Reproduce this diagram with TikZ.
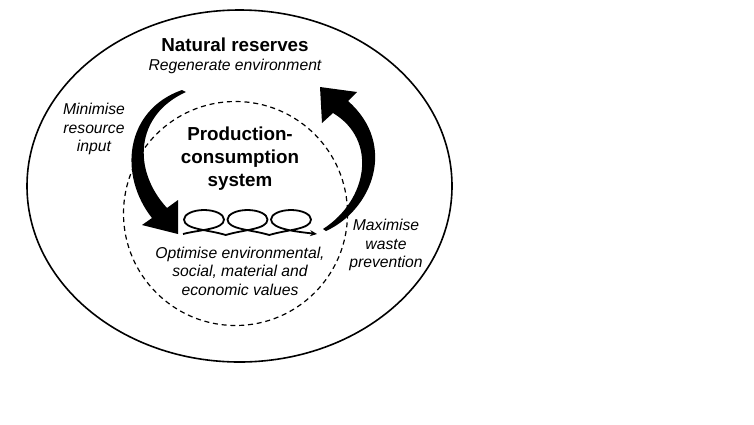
\documentclass[tikz,border=0pt]{standalone}
\usepackage{fontspec}
\setmainfont{Liberation Sans}
\usetikzlibrary{arrows.meta}
\begin{document}
\begin{tikzpicture}[x=1pt,y=-1pt,
    bigbold/.style={font=\fontsize{18.8}{23}\selectfont\bfseries,align=center,inner sep=0pt},
    itext/.style={font=\fontsize{15.7}{18.5}\selectfont\itshape,align=center,inner sep=0pt}]
    \useasboundingbox (0,0) rectangle (754,424);
    % outer reserve and inner system
    \draw[line width=1.6pt] (239.5,186) ellipse [x radius=212.5,y radius=176];
    \draw[line width=1.2pt,dash pattern=on 5pt off 3.8pt] (235.5,213.5) circle [radius=112];
    % texts
    \node[bigbold] (nr) at (235,45) {Natural reserves};
    \node[itext] (reg) at (235,66) {Regenerate environment};
    \node[itext] (mri) at (94,129) {Minimise\\resource\\input};
    \node[bigbold] (pcs) at (240,159) {Production-\\consumption\\system};
    \node[itext] (opt) at (240,271) {Optimise environmental,\\social, material and\\economic values};
    \node[itext] (mwp) at (386,245) {Maximise\\waste\\prevention};
    % big curved arrows
    \fill (182,90) .. controls (125,110) and (118,175) .. (152,218) -- (142,225) -- (178,234)
      -- (178,200) -- (167,208) .. controls (132,170) and (135,115) .. (186,92) -- cycle;
    \fill (326,231) .. controls (372,210) and (398,145) .. (348,101) -- (357,92) -- (320,87)
      -- (322,123) -- (333,113) .. controls (378,140) and (368,200) .. (323,229) -- cycle;
    % loops
    \draw[line width=1.8pt,line join=round,-{Stealth[length=7pt,width=6pt]}] (183,234)
      \foreach \c in {204,247.5} {
        .. controls (\c-4,229.5) and (\c+20,229.5) .. (\c+20,219.5)
        .. controls (\c+20,214.26) and (\c+11.04,210) .. (\c,210)
        .. controls (\c-11.04,210) and (\c-20,214.26) .. (\c-20,219.5)
        .. controls (\c-20,229.5) and (\c+4,229.5) .. (\c+21.75,235)}
      .. controls (287,229.5) and (311,229.5) .. (311,219.5)
      .. controls (311,214.26) and (302.04,210) .. (291,210)
      .. controls (279.96,210) and (271,214.26) .. (271,219.5)
      .. controls (271,229.5) and (300,232) .. (317,234);
\end{tikzpicture}
\end{document}
